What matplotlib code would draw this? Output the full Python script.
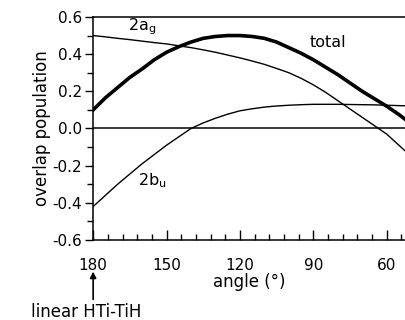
import matplotlib
matplotlib.use('Agg')
import matplotlib.pyplot as plt
from matplotlib.ticker import MultipleLocator

# values
angle = [180, 175, 170, 165, 160, 155, 150, 145, 140, 135, 130, 125, 120, 115, 110,
         105, 100, 95, 90, 85, 80, 75, 70, 65, 60, 55, 52.5]
total = [0.10, 0.165, 0.22, 0.275, 0.32, 0.37, 0.41, 0.44, 0.465, 0.485, 0.495, 0.50, 0.50,
         0.495, 0.485, 0.465, 0.435, 0.405, 0.37, 0.33, 0.29, 0.245, 0.20, 0.16, 0.12, 0.075, 0.05]
a_g = [0.50, 0.493, 0.485, 0.478, 0.47, 0.462, 0.455, 0.445, 0.435, 0.423, 0.41, 0.395, 0.38,
       0.363, 0.345, 0.323, 0.30, 0.27, 0.235, 0.195, 0.15, 0.105, 0.06, 0.015, -0.03, -0.09, -0.12]
b_u = [-0.42, -0.36, -0.30, -0.245, -0.19, -0.14, -0.09, -0.045, 0.0, 0.03, 0.055, 0.077, 0.095,
       0.106, 0.115, 0.121, 0.125, 0.128, 0.13, 0.13, 0.13, 0.129, 0.128, 0.127, 0.125, 0.123, 0.122]

xticks = [180, 150, 120, 90, 60]
yticks = [-0.6, -0.4, -0.2, 0.0, 0.2, 0.4, 0.6]


def make_plot():
    fig = plt.figure(figsize=(4.05, 3.2), dpi=100)
    ax = fig.add_axes([0.23, 0.25, 0.77, 0.697])

    ax.axhline(0, color='black', lw=1.1)
    ax.plot(angle, total, color='black', lw=2.6)
    ax.plot(angle, a_g, color='black', lw=1.0)
    ax.plot(angle, b_u, color='black', lw=1.0)

    ax.set_xlim(180, 52.5)
    ax.set_ylim(-0.6, 0.6)
    ax.set_xticks(xticks)
    ax.set_yticks(yticks)
    ax.set_yticklabels(['%.1f' % v if v != 0 else '0.0' for v in yticks])
    ax.xaxis.set_minor_locator(MultipleLocator(6))
    ax.yaxis.set_minor_locator(MultipleLocator(0.1))

    ax.spines['right'].set_visible(False)
    for s in ['left', 'top', 'bottom']:
        ax.spines[s].set_linewidth(1.1)

    ax.tick_params(axis='x', which='major', direction='in', length=7, width=1, pad=13, labelsize=11)
    ax.tick_params(axis='x', which='minor', direction='in', length=4, width=1)
    ax.tick_params(axis='y', which='major', direction='out', length=6, width=1, pad=2, labelsize=11)
    ax.tick_params(axis='y', which='minor', direction='out', length=4, width=1)

    ax.set_xlabel('angle (\u00b0)', fontsize=12, labelpad=0)
    ax.set_ylabel('overlap population', fontsize=12, labelpad=1)

    ax.text(160, 0.545, r'2a$_{\mathrm{g}}$', fontsize=11.5, ha='center', va='center')
    ax.text(84, 0.465, 'total', fontsize=11.5, ha='center', va='center')
    ax.text(156, -0.28, r'2b$_{\mathrm{u}}$', fontsize=11.5, ha='center', va='center')

    # arrow marking the linear geometry
    ax.annotate('', xy=(180, -0.77), xytext=(180, -0.92),
                annotation_clip=False,
                arrowprops=dict(arrowstyle='-|>', color='black', lw=1.2,
                                shrinkA=0, shrinkB=0, mutation_scale=9))
    ax.text(183, -0.99, 'linear HTi-TiH', fontsize=12, ha='center', va='center',
            clip_on=False)

    fig.savefig('out.png', dpi=100)


if __name__ == '__main__':
    make_plot()
